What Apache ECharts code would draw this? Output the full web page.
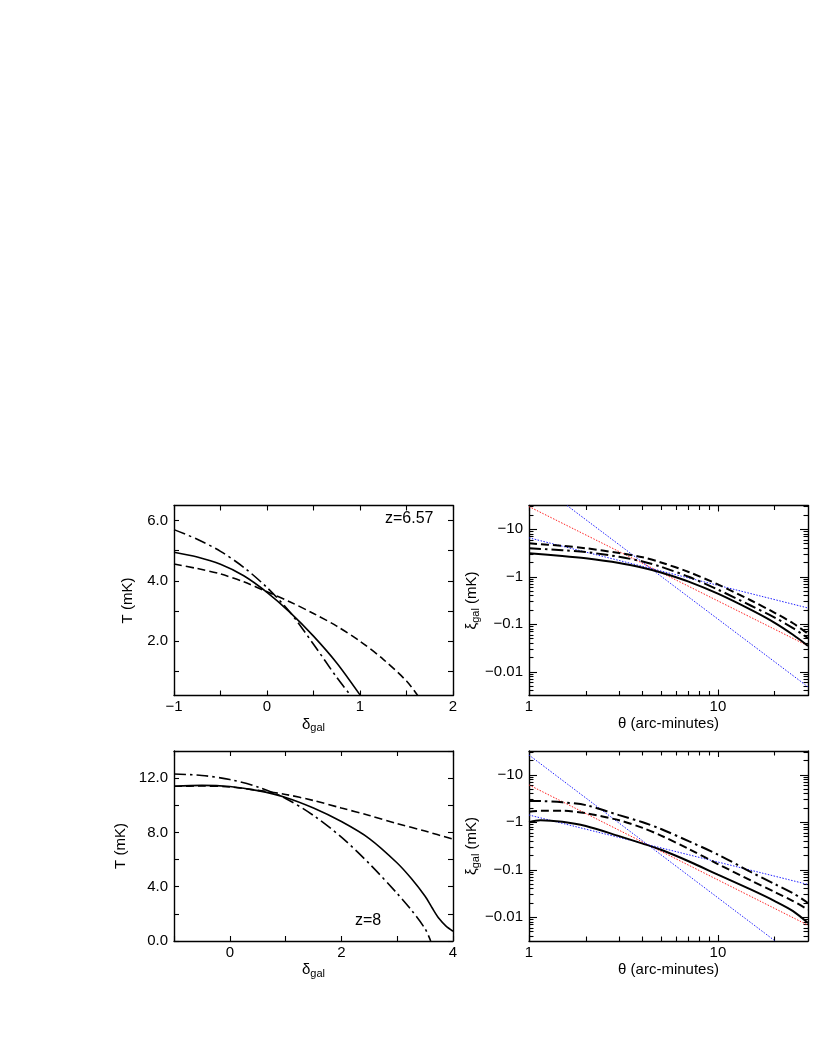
<!DOCTYPE html>
<html><head><meta charset="utf-8">
<script src="https://cdn.jsdelivr.net/npm/echarts@6/dist/echarts.min.js"></script>
<style>html,body{margin:0;padding:0;background:#fff}#c{width:817px;height:1058px}</style>
</head><body><div id="c"></div>
<script>
// ---------- data ----------
// Panel 1 (z=6.57): T (mK) vs delta_gal
const p1Solid_x = [-1,-0.75,-0.5,-0.25,0,0.25,0.5,0.75,1.0];
const p1Solid_y = [4.95,4.79,4.55,4.17,3.62,2.95,2.17,1.28,0.22];
const p1Dash_x = [-1,-0.75,-0.5,-0.25,0,0.25,0.5,0.75,1,1.25,1.5,1.62];
const p1Dash_y = [4.56,4.41,4.23,3.97,3.64,3.3,2.92,2.5,2.0,1.4,0.68,0.2];
const p1DashDot_x = [-1,-0.75,-0.5,-0.25,0,0.25,0.5,0.75,0.9];
const p1DashDot_y = [5.7,5.38,4.98,4.45,3.78,2.95,1.9,0.8,0.2];
// Panel 3 (z=8)
const p3Solid_x = [-1,-0.5,0,0.5,1,1.5,2,2.5,3,3.25,3.5,3.625,3.75,3.875,4];
const p3Solid_y = [11.4,11.47,11.38,11.08,10.58,9.8,8.8,7.55,5.75,4.62,3.3,2.45,1.65,1.1,0.72];
const p3Dash_x = [-1,-0.5,0,0.5,1,1.5,2,2.5,3,3.5,4];
const p3Dash_y = [11.4,11.42,11.35,11.1,10.8,10.35,9.8,9.25,8.65,8.1,7.5];
const p3DashDot_x = [-1,-0.5,0,0.5,1,1.5,2,2.5,3,3.25,3.5,3.6];
const p3DashDot_y = [12.3,12.2,11.9,11.35,10.5,9.25,7.65,5.7,3.5,2.3,0.9,0.0];
// Panel 2 (|xi_gal|, mK) vs theta (arc-minutes)
const p2Theta = [1,1.5,2,3,4,5,7,10,15,20,25,30];
const p2Solid = [3.12,2.75,2.45,1.95,1.55,1.23,0.79,0.44,0.20,0.107,0.060,0.035];
const p2Dash = [5.06,4.47,3.98,3.16,2.57,2.0,1.26,0.69,0.316,0.174,0.105,0.063];
const p2DashDot = [3.98,3.63,3.31,2.63,2.09,1.62,1.0,0.537,0.245,0.138,0.083,0.051];
const p2Red_x = [1,30], p2Red_y = [30,0.035];
const p2BlueSteep_x = [1.59,30], p2BlueSteep_y = [31.6,0.0048];
const p2BlueShallow_x = [1,30], p2BlueShallow_y = [6.6,0.22];
// Panel 4
const p4Theta = [1,1.15,1.5,2,3,4,5,7,10,15,20,25,30];
const p4Solid = [1.0,1.10,1.02,0.83,0.51,0.355,0.263,0.151,0.079,0.038,0.0219,0.0135,0.0076];
const p4Dash = [1.67,1.74,1.74,1.55,1.10,0.76,0.525,0.275,0.132,0.059,0.034,0.0219,0.0145];
const p4DashDot = [2.8,2.79,2.63,2.29,1.41,1.0,0.72,0.40,0.209,0.089,0.050,0.032,0.020];
const p4Red_x = [1,30], p4Red_y = [6.1,0.0068];
const p4BlueSteep_x = [1,20.1], p4BlueSteep_y = [26,0.00316];
const p4BlueShallow_x = [1,30], p4BlueShallow_y = [1.42,0.049];
// ticks / labels
const p1XTicks = [-1,-0.5,0,0.5,1,1.5,2], p1XLabels = [-1,0,1,2];
const p1YTicks = [1,2,3,4,5,6], p1YLabels = [2,4,6];
const p3XTicks = [-1,0,1,2,3,4], p3XLabels = [0,2,4];
const p3YTicks = [0,2,4,6,8,10,12,14], p3YLabels = [0,4,8,12];
const logXMajor = [1,10];
const logXMinor = [2,3,4,5,6,7,8,9,20];
const logYMajor = [0.01,0.1,1,10];
const logYMinor = [0.004,0.005,0.006,0.007,0.008,0.009,0.02,0.03,0.04,0.05,0.06,0.07,0.08,0.09,0.2,0.3,0.4,0.5,0.6,0.7,0.8,0.9,2,3,4,5,6,7,8,9,20,30];

// ---------- helpers ----------
const FONT = 'Liberation Sans, Arial, Helvetica, sans-serif';
const LABEL_SIZE = 15;
const zip = (xs, ys) => xs.map((x, i) => [x, ys[i]]);
const minus = v => String(v).replace('-', '\u2212');
const nameRich = {
  m: {fontSize: 15, lineHeight: 18, fontFamily: FONT, color: '#000'},
  s: {fontSize: 11, lineHeight: 14, padding: [7, 0, 0, 0], fontFamily: FONT, color: '#000'}
};
const grids = [
  {left: 174, top: 505.5, width: 279, height: 190},
  {left: 529, top: 505.5, width: 279, height: 190},
  {left: 174, top: 751, width: 279, height: 190},
  {left: 529, top: 751, width: 279, height: 190}
];
const xAxes = [], yAxes = [];
function axisBase(gi, type, min, max, pos, ticks, tickLen, showLine) {
  return {
    gridIndex: gi, type: type, min: min, max: max, position: pos,
    axisLine: {show: showLine, onZero: false, lineStyle: {color: '#000', width: 1.4}},
    axisTick: {show: true, inside: true, length: tickLen, customValues: ticks, lineStyle: {color: '#000', width: 1.1}},
    axisLabel: {show: false},
    splitLine: {show: false}, minorTick: {show: false}, minorSplitLine: {show: false}
  };
}
function addPanel(gi, cfg) {
  const xi = xAxes.length, yi = yAxes.length;
  const mx = axisBase(gi, cfg.xType, cfg.xMin, cfg.xMax, 'bottom', cfg.xTicks, cfg.xLen, true);
  mx.axisLabel = {show: true, customValues: cfg.xLabels, formatter: cfg.xFmt, margin: 4,
    fontSize: LABEL_SIZE, fontFamily: FONT, color: '#000'};
  mx.name = cfg.xName; mx.nameLocation = 'middle'; mx.nameGap = cfg.xNameGap;
  mx.nameTextStyle = {fontSize: 15, fontFamily: FONT, color: '#000', rich: nameRich};
  xAxes.push(mx);
  xAxes.push(axisBase(gi, cfg.xType, cfg.xMin, cfg.xMax, 'top', cfg.xTicks, cfg.xLen, true));
  const my = axisBase(gi, cfg.yType, cfg.yMin, cfg.yMax, 'left', cfg.yTicks, cfg.yLen, true);
  my.axisLabel = {show: true, customValues: cfg.yLabels, formatter: cfg.yFmt, margin: 6,
    fontSize: LABEL_SIZE, fontFamily: FONT, color: '#000'};
  my.name = cfg.yName; my.nameLocation = 'middle'; my.nameGap = cfg.yNameGap;
  my.nameTextStyle = {fontSize: 15, fontFamily: FONT, color: '#000', rich: nameRich};
  yAxes.push(my);
  yAxes.push(axisBase(gi, cfg.yType, cfg.yMin, cfg.yMax, 'right', cfg.yTicks, cfg.yLen, true));
  if (cfg.xMinor) {
    xAxes.push(axisBase(gi, cfg.xType, cfg.xMin, cfg.xMax, 'bottom', cfg.xMinor, 4.5, false));
    xAxes.push(axisBase(gi, cfg.xType, cfg.xMin, cfg.xMax, 'top', cfg.xMinor, 4.5, false));
  }
  if (cfg.yMinor) {
    yAxes.push(axisBase(gi, cfg.yType, cfg.yMin, cfg.yMax, 'left', cfg.yMinor, 4.5, false));
    yAxes.push(axisBase(gi, cfg.yType, cfg.yMin, cfg.yMax, 'right', cfg.yMinor, 4.5, false));
  }
  return [xi, yi];
}
const linFmt1 = v => minus(v);
const yFmtFixed = v => Number(v).toFixed(1);
const logYFmt = v => '\u2212' + Number(v);
const logXFmt = v => String(Number(v));

const a1 = addPanel(0, {xType: 'value', xMin: -1, xMax: 2, xTicks: p1XTicks, xLabels: p1XLabels, xLen: 5, xFmt: linFmt1,
  xName: '{m|δ}{s|gal}', xNameGap: 20,
  yType: 'value', yMin: 0.2, yMax: 6.5, yTicks: p1YTicks, yLabels: p1YLabels, yLen: 5, yFmt: yFmtFixed,
  yName: 'T (mK)', yNameGap: 39});
const a2 = addPanel(1, {xType: 'log', xMin: 1, xMax: 30, xTicks: logXMajor, xLabels: logXMajor, xLen: 6, xFmt: logXFmt,
  xMinor: logXMinor, xName: 'θ (arc-minutes)', xNameGap: 21,
  yType: 'log', yMin: Math.pow(10, -2.5), yMax: Math.pow(10, 1.5), yTicks: logYMajor, yLabels: logYMajor, yLen: 8, yFmt: logYFmt,
  yMinor: logYMinor, yName: '{m|ξ}{s|gal}{m| (mK)}', yNameGap: 45});
const a3 = addPanel(2, {xType: 'value', xMin: -1, xMax: 4, xTicks: p3XTicks, xLabels: p3XLabels, xLen: 5, xFmt: linFmt1,
  xName: '{m|δ}{s|gal}', xNameGap: 20,
  yType: 'value', yMin: 0, yMax: 14, yTicks: p3YTicks, yLabels: p3YLabels, yLen: 5, yFmt: yFmtFixed,
  yName: 'T (mK)', yNameGap: 46});
const a4 = addPanel(3, {xType: 'log', xMin: 1, xMax: 30, xTicks: logXMajor, xLabels: logXMajor, xLen: 6, xFmt: logXFmt,
  xMinor: logXMinor, xName: 'θ (arc-minutes)', xNameGap: 21,
  yType: 'log', yMin: Math.pow(10, -2.5), yMax: Math.pow(10, 1.5), yTicks: logYMajor, yLabels: logYMajor, yLen: 8, yFmt: logYFmt,
  yMinor: logYMinor, yName: '{m|ξ}{s|gal}{m| (mK)}', yNameGap: 45});

const DASH = [8, 4], DASHDOT = [12, 4, 2.5, 4], DOT = [1.5, 1.5];
function line(ax, data, color, width, type, z) {
  return {type: 'line', xAxisIndex: ax[0], yAxisIndex: ax[1], data: data, showSymbol: false, symbol: 'none',
    smooth: 0.3, clip: true, z: z || 2, silent: true,
    lineStyle: {color: color, width: width, type: type}};
}
const series = [
  line(a1, zip(p1Solid_x, p1Solid_y), '#000', 1.6, 'solid'),
  line(a1, zip(p1Dash_x, p1Dash_y), '#000', 1.6, DASH),
  line(a1, zip(p1DashDot_x, p1DashDot_y), '#000', 1.6, DASHDOT),
  line(a3, zip(p3Solid_x, p3Solid_y), '#000', 1.6, 'solid'),
  line(a3, zip(p3Dash_x, p3Dash_y), '#000', 1.6, DASH),
  line(a3, zip(p3DashDot_x, p3DashDot_y), '#000', 1.6, DASHDOT),
  line(a2, zip(p2Red_x, p2Red_y), '#ff2020', 1, DOT, 1),
  line(a2, zip(p2BlueSteep_x, p2BlueSteep_y), '#2020ff', 1, DOT, 1),
  line(a2, zip(p2BlueShallow_x, p2BlueShallow_y), '#2020ff', 1, DOT, 1),
  line(a2, zip(p2Theta, p2Solid), '#000', 2, 'solid'),
  line(a2, zip(p2Theta, p2Dash), '#000', 2, DASH),
  line(a2, zip(p2Theta, p2DashDot), '#000', 2, DASHDOT),
  line(a4, zip(p4Red_x, p4Red_y), '#ff2020', 1, DOT, 1),
  line(a4, zip(p4BlueSteep_x, p4BlueSteep_y), '#2020ff', 1, DOT, 1),
  line(a4, zip(p4BlueShallow_x, p4BlueShallow_y), '#2020ff', 1, DOT, 1),
  line(a4, zip(p4Theta, p4Solid), '#000', 2, 'solid'),
  line(a4, zip(p4Theta, p4Dash), '#000', 2, DASH),
  line(a4, zip(p4Theta, p4DashDot), '#000', 2, DASHDOT)
];

const chart = echarts.init(document.getElementById('c'), null, {renderer: 'canvas'});
chart.setOption({
  animation: false,
  backgroundColor: '#fff',
  textStyle: {fontFamily: FONT},
  grid: grids.map(g => Object.assign({outerBoundsMode: 'none', containLabel: false}, g)),
  xAxis: xAxes,
  yAxis: yAxes,
  series: series,
  graphic: [
    {type: 'text', left: 385, top: 511, style: {text: 'z=6.57', fontSize: 16, fontFamily: FONT, fill: '#000'}},
    {type: 'text', left: 355, top: 913, style: {text: 'z=8', fontSize: 16, fontFamily: FONT, fill: '#000'}}
  ]
});
</script></body></html>
